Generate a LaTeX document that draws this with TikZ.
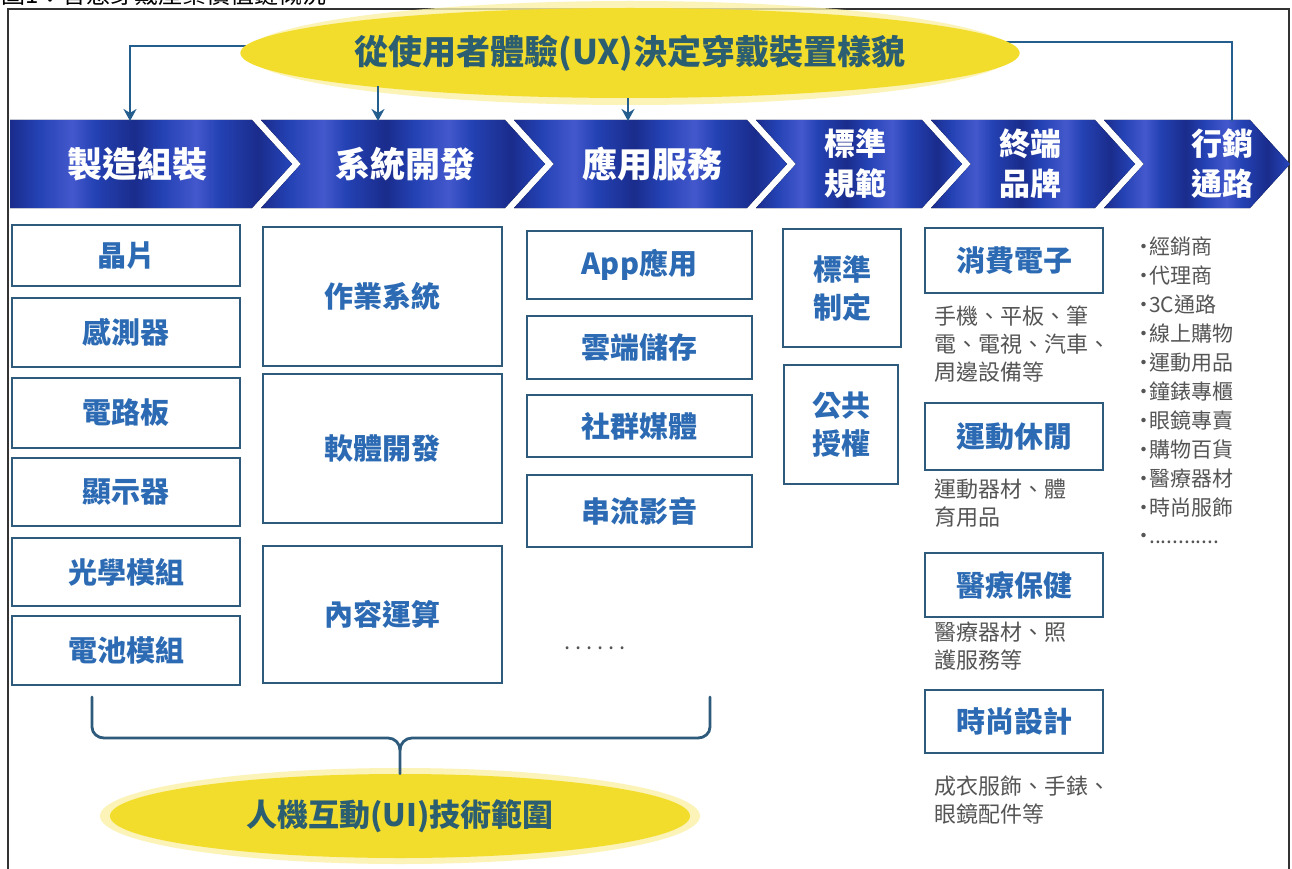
\documentclass[tikz,border=0pt]{standalone}
\usepackage{fontspec}
\setmainfont{Noto Sans CJK TC}
\usetikzlibrary{shapes.geometric,arrows.meta}
\definecolor{chA}{HTML}{1A2C8C}
\definecolor{chB}{HTML}{2442B4}
\definecolor{chC}{HTML}{4358CC}
\definecolor{boxc}{HTML}{2E5B7C}
\definecolor{boxt}{HTML}{2C6BB3}
\definecolor{descc}{HTML}{555555}
\definecolor{linec}{HTML}{235E8E}
\definecolor{elltext}{HTML}{2C5E72}
\definecolor{yel}{HTML}{F3DD2C}
\definecolor{yelglow}{HTML}{FAF1A6}
\definecolor{framec}{HTML}{333333}
\pgfdeclarehorizontalshading{chevshade}{100bp}{color(0bp)=(chB); color(5bp)=(chA); color(9bp)=(chB); color(14bp)=(chC); color(18bp)=(chB); color(25bp)=(chA); color(30bp)=(chB); color(36bp)=(chC); color(40bp)=(chB); color(47bp)=(chA); color(52bp)=(chB); color(58bp)=(chC); color(62bp)=(chB); color(69bp)=(chA); color(74bp)=(chB); color(80bp)=(chC); color(85bp)=(chB); color(92bp)=(chA); color(100bp)=(chB)}
\begin{document}
\begin{tikzpicture}[x=1pt,y=-1pt,
  chev/.style={shading=chevshade},
  chevtext/.style={text=white, font=\bfseries\fontsize{35}{40}\selectfont, align=center, inner sep=0pt},
  chevtwo/.style={text=white, font=\bfseries\fontsize{31}{40}\selectfont, align=center, inner sep=0pt},
  box/.style={draw=boxc, line width=2.6pt, fill=white, text=boxt, font=\bfseries\fontsize{29}{38}\selectfont, inner sep=0pt, align=center},
  desc/.style={anchor=north west, inner sep=0pt, align=left, text=descc, font=\fontsize{22}{28}\selectfont},
  ell/.style={ellipse, fill=yel, inner sep=0pt, text=elltext, font=\bfseries\fontsize{31}{36}\selectfont},
  glow/.style={fill=yelglow, opacity=0.8},
  arr/.style={draw=linec, line width=2.2pt, -{Stealth[length=12pt,width=13pt]}},
  conn/.style={draw=linec, line width=2.2pt},
  brace/.style={draw=boxc, line width=2.8pt, line cap=round, line join=round}]
\useasboundingbox (0,0) rectangle (1292,869);
\clip (0,0) rectangle (1292,869);
\fill[white] (0,0) rectangle (1292,869);
% caption (cut off at the top, as in the source)
\node[anchor=base west, inner sep=0pt, font=\fontsize{24}{24}\selectfont] (cap) at (1,4) {圖1：智慧穿戴產業價值鏈概況};
% frame
\draw[framec, line width=1.6pt] (8,880) -- (8,9) -- (1289,9) -- (1289,880);
% chevrons
\fill[chev] (10,120) -- (252,120) -- (292,164) -- (252,208) -- (10,208) -- cycle;
\fill[chev] (261,120) -- (505,120) -- (545,164) -- (505,208) -- (261,208) -- (301,164) -- cycle;
\fill[chev] (514,120) -- (747,120) -- (787,164) -- (747,208) -- (514,208) -- (554,164) -- cycle;
\fill[chev] (756,120) -- (922,120) -- (962,164) -- (922,208) -- (756,208) -- (796,164) -- cycle;
\fill[chev] (931,120) -- (1095,120) -- (1135,164) -- (1095,208) -- (931,208) -- (971,164) -- cycle;
\fill[chev] (1104,120) -- (1250,120) -- (1290,164) -- (1250,208) -- (1104,208) -- (1144,164) -- cycle;
\coordinate (t1) at (130,121);
\coordinate (t2) at (378,121);
\coordinate (t3) at (628,121);
\coordinate (t6) at (1232,121);
\node[chevtext] (c1) at (137,164) {製造組裝};
\node[chevtext] (c2) at (405,164) {系統開發};
\node[chevtext] (c3) at (652,164) {應用服務};
\node[chevtwo] (c4) at (855,164) {標準\\規範};
\node[chevtwo] (c5) at (1030,164) {終端\\品牌};
\node[chevtwo] (c6) at (1222,164) {行銷\\通路};
% top ellipse
\coordinate (uxc) at (630,53);
\coordinate (uxl) at (262,46);
\coordinate (uxr) at (995,42);
\draw[arr] (uxl) -| (t1);
\draw[conn] (uxr) -| (t6);
\fill[glow] (uxc) ellipse [x radius=384, y radius=52];
\node[ell, minimum width=744pt, minimum height=90pt, font=\bfseries\fontsize{34}{38}\selectfont] (ux) at (uxc) {從使用者體驗(UX)決定穿戴裝置樣貌};
\draw[arr] (t2 |- ux.187.5) -- (t2);
\draw[arr] (t3 |- ux.south) -- (t3);
% column 1
\node[box, minimum width=228pt, minimum height=61pt] (b11) at (126,255.5) {晶片};
\node[box, minimum width=228pt, minimum height=69pt] (b12) at (126,332.5) {感測器};
\node[box, minimum width=228pt, minimum height=70pt] (b13) at (126,413) {電路板};
\node[box, minimum width=228pt, minimum height=68pt] (b14) at (126,492) {顯示器};
\node[box, minimum width=228pt, minimum height=68pt] (b15) at (126,572) {光學模組};
\node[box, minimum width=228pt, minimum height=69pt] (b16) at (126,650.5) {電池模組};
% column 2
\node[box, minimum width=239pt, minimum height=139pt] (b21) at (382.5,296.5) {作業系統};
\node[box, minimum width=239pt, minimum height=149pt] (b22) at (382.5,448.5) {軟體開發};
\node[box, minimum width=239pt, minimum height=137pt] (b23) at (382.5,614.5) {內容運算};
% column 3
\node[box, minimum width=225pt, minimum height=68pt] (b31) at (639.5,265) {App應用};
\node[box, minimum width=225pt, minimum height=63pt] (b32) at (639.5,347.5) {雲端儲存};
\node[box, minimum width=225pt, minimum height=62pt] (b33) at (639.5,426) {社群媒體};
\node[box, minimum width=225pt, minimum height=72pt] (b34) at (639.5,511) {串流影音};
\node[text=descc, inner sep=0pt, font=\fontsize{22}{22}\selectfont] (more) at (595,648) {.\kern5pt.\kern5pt.\kern5pt.\kern5pt.\kern5pt.};
% column 4
\node[box, minimum width=118pt, minimum height=118pt] (b41) at (842,288) {標準\\制定};
\node[box, minimum width=114pt, minimum height=119pt] (b42) at (841,424.5) {公共\\授權};
% column 5
\node[box, minimum width=178pt, minimum height=65pt] (b51) at (1014,260.5) {消費電子};
\node[desc] (d51) at (934,306) {手機、平板、筆\\電、電視、汽車、\\周邊設備等};
\node[box, minimum width=178pt, minimum height=67pt] (b52) at (1014,436.5) {運動休閒};
\node[desc] (d52) at (934,479) {運動器材、體\\育用品};
\node[box, minimum width=178pt, minimum height=64pt] (b53) at (1014,585) {醫療保健};
\node[desc] (d53) at (934,622) {醫療器材、照\\護服務等};
\node[box, minimum width=178pt, minimum height=63pt] (b54) at (1014,721.5) {時尚設計};
\node[desc] (d54) at (934,776) {成衣服飾、手錶、\\眼鏡配件等};
% column 6
\newcommand{\bul}{•\kern-5pt}
\node[anchor=north west, inner sep=0pt, align=left, text=descc, font=\fontsize{21}{28.9}\selectfont] (list) at (1133,237) {\bul 經銷商\\\bul 代理商\\\bul 3C通路\\\bul 線上購物\\\bul 運動用品\\\bul 鐘錶專櫃\\\bul 眼鏡專賣\\\bul 購物百貨\\\bul 醫療器材\\\bul 時尚服飾\\\bul ............};
% bottom ellipse
\fill[glow] (400,816) ellipse [x radius=300, y radius=48];
\node[ell, minimum width=580pt, minimum height=84pt] (ui) at (400,816) {人機互動(UI)技術範圍};
% brace
\coordinate (bl) at (92,697);
\coordinate (br) at (710,697);
\draw[brace] (bl) -- (92,727) to[out=-90,in=180] (104,738) -- (388,738) to[out=0,in=90] (400,750) -- (ui.north);
\draw[brace] (400,750) to[out=90,in=180] (412,738) -- (698,738) to[out=0,in=-90] (710,727) -- (br);
\end{tikzpicture}
\end{document}
